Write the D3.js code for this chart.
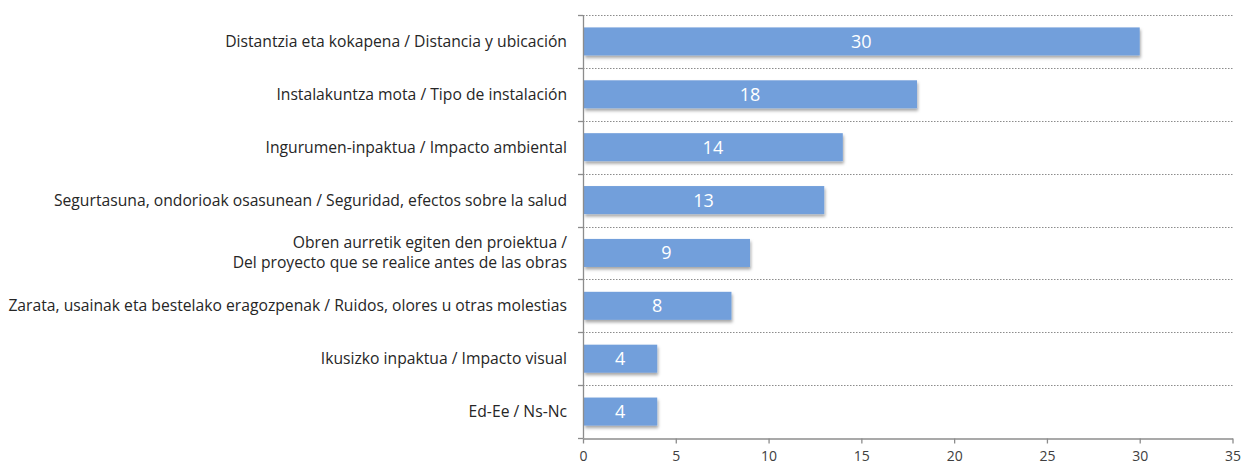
<!DOCTYPE html>
<html>
<head>
<meta charset="utf-8">
<script src="https://cdn.jsdelivr.net/npm/d3@7"></script>
<style>
  html, body { margin: 0; padding: 0; background: #fff; }
  svg { display: block; }
</style>
</head>
<body>
<svg id="chart" width="1244" height="466"></svg>
<script>
// Reasons given, each label split into lines where it wraps
const categories = [
  ["Distantzia eta kokapena / Distancia y ubicación"],
  ["Instalakuntza mota / Tipo de instalación"],
  ["Ingurumen-inpaktua / Impacto ambiental"],
  ["Segurtasuna, ondorioak osasunean / Seguridad, efectos sobre la salud"],
  ["Obren aurretik egiten den proiektua /", "Del proyecto que se realice antes de las obras"],
  ["Zarata, usainak eta bestelako eragozpenak / Ruidos, olores u otras molestias"],
  ["Ikusizko inpaktua / Impacto visual"],
  ["Ed-Ee / Ns-Nc"]
];
const values = [30, 18, 14, 13, 9, 8, 4, 4];
const xTicks = [0, 5, 10, 15, 20, 25, 30, 35];

const svg = d3.select("#chart");
const margin = { left: 583, right: 12, top: 15, bottom: 28 };
const labelFont = "'Open Sans', sans-serif";
const numFont = "'Open Sans', sans-serif";

const x = d3.scaleLinear().domain([0, 35]).range([margin.left, 1232.5]);
const y = d3.scaleBand().domain(d3.range(categories.length))
  .range([margin.top, 438]).paddingInner(0.47).paddingOuter(0.235);
const step = y.step();

// soft drop shadow under the bars
const defs = svg.append("defs");
const f = defs.append("filter").attr("id", "shadow")
  .attr("x", "-5%").attr("y", "-20%").attr("width", "115%").attr("height", "160%");
f.append("feDropShadow").attr("dx", 1).attr("dy", 2.5).attr("stdDeviation", 1.5)
  .attr("flood-color", "#000").attr("flood-opacity", 0.35);

// dotted separators between categories
svg.append("g").selectAll("line")
  .data(d3.range(categories.length))
  .join("line")
  .attr("x1", x(0)).attr("x2", x(35))
  .attr("y1", i => Math.round(margin.top + i * step) + 0.5)
  .attr("y2", i => Math.round(margin.top + i * step) + 0.5)
  .attr("stroke", "#8c8c8c").attr("stroke-width", 1.2)
  .attr("stroke-dasharray", "1.5,1.5");

// bars
svg.append("g").selectAll("rect")
  .data(values)
  .join("rect")
  .attr("x", x(0) + 1)
  .attr("y", (d, i) => y(i))
  .attr("width", d => x(d) - x(0) - 1)
  .attr("height", y.bandwidth())
  .attr("fill", "#729fdb")
  .attr("filter", "url(#shadow)");

// value labels centred in each bar
svg.append("g").selectAll("text")
  .data(values)
  .join("text")
  .attr("x", d => (x(0) + x(d)) / 2)
  .attr("y", (d, i) => y(i) + y.bandwidth() / 2)
  .attr("dy", "0.36em")
  .attr("text-anchor", "middle")
  .attr("fill", "#fff")
  .style("font-family", numFont).style("font-size", "18px")
  .text(d => d);

// x axis
const xAxis = d3.axisBottom(x).tickValues(xTicks).tickSize(5).tickSizeOuter(0);
const gx = svg.append("g").attr("transform", `translate(0,${438.5})`).call(xAxis);
gx.select(".domain").attr("stroke", "#8c8c8c").attr("stroke-width", 1.3);
gx.selectAll(".tick line").attr("stroke", "#8c8c8c").attr("stroke-width", 1.3);
gx.selectAll(".tick text").attr("fill", "#404040").attr("dy", "1.05em")
  .style("font-family", numFont).style("font-size", "14px");

// y axis line with small outward ticks at each category boundary
svg.append("line")
  .attr("x1", x(0) + 0.5).attr("x2", x(0) + 0.5)
  .attr("y1", margin.top).attr("y2", 438.5)
  .attr("stroke", "#8c8c8c").attr("stroke-width", 1.3);
svg.append("g").selectAll("line")
  .data(d3.range(categories.length + 1))
  .join("line")
  .attr("x1", x(0) - 5).attr("x2", x(0))
  .attr("y1", i => Math.round(margin.top + i * step) + 0.5)
  .attr("y2", i => Math.round(margin.top + i * step) + 0.5)
  .attr("stroke", "#8c8c8c").attr("stroke-width", 1.3);

// category labels
const lab = svg.append("g").selectAll("text")
  .data(categories)
  .join("text")
  .attr("text-anchor", "end")
  .attr("fill", "#262626")
  .style("font-family", labelFont).style("font-size", "15.7px");
lab.each(function(lines, i) {
  const cy = y(i) + y.bandwidth() / 2;
  const lh = 20;
  const t = d3.select(this);
  lines.forEach((ln, k) => {
    t.append("tspan")
      .attr("x", 567)
      .attr("y", cy + (k - (lines.length - 1) / 2) * lh)
      .attr("dy", "0.35em")
      .text(ln);
  });
});
</script>
</body>
</html>
